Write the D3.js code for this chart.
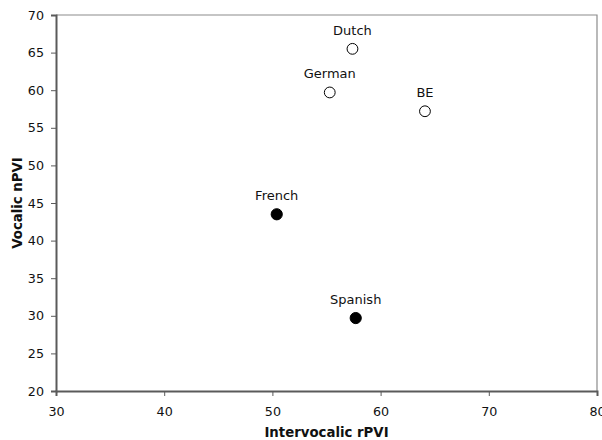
<!DOCTYPE html>
<html>
<head>
<meta charset="utf-8">
<script src="https://cdn.jsdelivr.net/npm/d3@7"></script>
<style>
  html, body { margin: 0; padding: 0; background: #fff; }
  svg { display: block; font-family: "DejaVu Sans", Verdana, sans-serif; }
</style>
</head>
<body>
<svg id="chart" width="602" height="440"></svg>
<script>
// Rhythm metrics by language
const languages = ["Dutch", "German", "BE", "French", "Spanish"];
const rPVI = [57.4, 55.3, 64.1, 50.4, 57.7];
const nPVI = [65.5, 59.7, 57.2, 43.5, 29.7];
const filled = [false, false, false, true, true];

const xTicks = [30, 40, 50, 60, 70, 80];
const yTicks = [20, 25, 30, 35, 40, 45, 50, 55, 60, 65, 70];

const margin = { left: 56, top: 15, right: 5, bottom: 49 };
const W = 602, H = 440;
const svg = d3.select("#chart");

const x = d3.scaleLinear().domain([30, 80]).range([margin.left, W - margin.right]);
const y = d3.scaleLinear().domain([20, 70]).range([H - margin.bottom, margin.top]);

// thin frame on top and right
svg.append("path")
  .attr("d", `M${x(30)},${y(70)}H${x(80)}V${y(20)}`)
  .attr("fill", "none").attr("stroke", "#8c8c8c").attr("stroke-width", 1.2);

const xAxis = svg.append("g")
  .attr("transform", `translate(0,${y(20)})`)
  .call(d3.axisBottom(x).tickValues(xTicks).tickSize(5).tickPadding(11).tickFormat(d3.format("d")));
const yAxis = svg.append("g")
  .attr("transform", `translate(${x(30)},0)`)
  .call(d3.axisLeft(y).tickValues(yTicks).tickSize(5).tickPadding(7).tickFormat(d3.format("d")));

[xAxis, yAxis].forEach(g => {
  g.select(".domain").attr("stroke", "#5a5a5a").attr("stroke-width", 2);
  g.selectAll(".tick line").attr("stroke", "#5a5a5a").attr("stroke-width", 1);
  g.selectAll(".tick text").attr("fill", "#111").style("font-size", "12.7px")
    .style("font-family", "'DejaVu Sans', Verdana, sans-serif");
});

// axis titles
svg.append("text")
  .attr("x", (x(30) + x(80)) / 2).attr("y", 437)
  .attr("text-anchor", "middle").attr("font-weight", "bold").attr("font-size", 13.3)
  .attr("fill", "#111").text("Intervocalic rPVI");
svg.append("text")
  .attr("transform", `translate(22,${(y(20) + y(70)) / 2}) rotate(-90)`)
  .attr("text-anchor", "middle").attr("font-weight", "bold").attr("font-size", 13.3)
  .attr("fill", "#111").text("Vocalic nPVI");

// points
const pts = languages.map((name, i) => ({ name, x: rPVI[i], y: nPVI[i], filled: filled[i] }));
const g = svg.append("g");
g.selectAll("circle").data(pts).join("circle")
  .attr("cx", d => x(d.x)).attr("cy", d => y(d.y))
  .attr("r", d => d.filled ? 5.6 : 5.4)
  .attr("fill", d => d.filled ? "#000" : "#fff")
  .attr("stroke", "#000").attr("stroke-width", 1);

g.selectAll("text").data(pts).join("text")
  .attr("x", d => x(d.x)).attr("y", d => y(d.y) - 14)
  .attr("text-anchor", "middle").attr("font-size", 13).attr("fill", "#111")
  .text(d => d.name);
</script>
</body>
</html>
